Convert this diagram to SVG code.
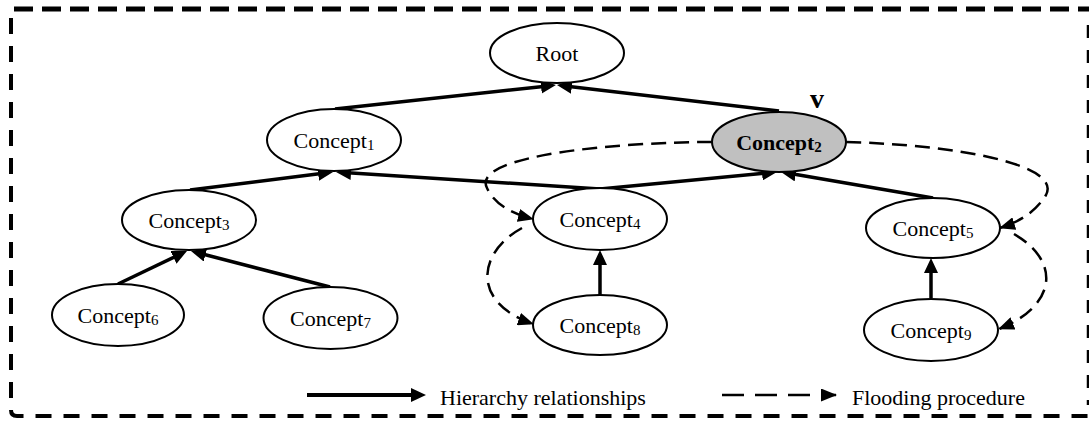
<svg xmlns="http://www.w3.org/2000/svg" width="1089" height="421" viewBox="0 0 1089 421">
  <style>
    .node { fill: #ffffff; stroke: #000; stroke-width: 2; }
    .sel { fill: #c0c0c0; stroke: #000; stroke-width: 2; }
    .lbl { font-family: "Liberation Serif", "Times New Roman", serif; font-size: 22px; fill: #000; text-anchor: middle; }
    .sub { font-size: 15px; }
    .bold { font-weight: bold; }
    .hier { fill: none; stroke: #000; stroke-width: 3.5; marker-end: url(#ah); }
    .flood { fill: none; stroke: #000; stroke-width: 2.5; stroke-dasharray: 15 8; marker-end: url(#ad); }
    .frame { fill: none; stroke: #000; }
    .leg { font-family: "Liberation Serif", "Times New Roman", serif; font-size: 22px; fill: #000; }
    .mark { font-family: "Liberation Serif", "Times New Roman", serif; font-size: 28px; font-weight: bold; fill: #000; text-anchor: middle; }
  </style>
  <defs>
    <marker id="ah" viewBox="0 0 15 14" refX="7" refY="7" markerWidth="15" markerHeight="14" markerUnits="userSpaceOnUse" orient="auto">
      <path d="M0,0 L15,7 L0,14 z" fill="#000"/>
    </marker>
    <marker id="ad" viewBox="0 0 16 13" refX="15" refY="6.5" markerWidth="16" markerHeight="13" markerUnits="userSpaceOnUse" orient="auto">
      <path d="M0,0 L16,6.5 L0,13 z" fill="#000"/>
    </marker>
  </defs>

  <g id="frame">
    <path class="frame" d="M14,9 L1089,9" stroke-width="5" stroke-dasharray="19 9"/>
    <path class="frame" d="M11,18 L11,410 Q11,416 17,416 L1089,416" stroke-width="4" stroke-dasharray="16 12"/>
    <path class="frame" d="M1088,25 L1088,405" stroke-width="2.5" stroke-dasharray="13 12"/>
  </g>

  <g id="connectors">
    <path class="hier" d="M335,109 L548,85.9"/>
    <path class="hier" d="M779,111 L564.9,85.9"/>
    <path class="hier" d="M190,190 L325.1,173"/>
    <path class="hier" d="M600,189 L344,172.5"/>
    <path class="hier" d="M600,189 L769,172.8"/>
    <path class="hier" d="M933,198 L788.9,173.3"/>
    <path class="hier" d="M118,284 L179.8,254.4"/>
    <path class="hier" d="M330,287 L198.7,253"/>
    <path class="hier" d="M600,295 L600,258"/>
    <path class="hier" d="M931,298 L931,266"/>

    <path class="flood" d="M712,142 C620,142 470,155 487,188 Q497,210 533,219"/>
    <path class="flood" d="M522,228 C478,252 470,302 533,324"/>
    <path class="flood" d="M846,142 C960,145 1062,165 1046,195 Q1032,218 1000,228"/>
    <path class="flood" d="M1014,234 C1062,262 1056,306 999,329"/>
  </g>

  <g id="root">
    <ellipse class="node" cx="557" cy="53" rx="67" ry="30"/>
    <text class="lbl" x="557" y="61">Root</text>
  </g>
  <g id="concept1">
    <ellipse class="node" cx="334" cy="140" rx="67" ry="31"/>
    <text class="lbl" x="334" y="148">Concept<tspan class="sub" dy="2">1</tspan></text>
  </g>
  <g id="concept2">
    <ellipse class="sel" cx="779" cy="142" rx="67" ry="30"/>
    <text class="lbl bold" x="779" y="150">Concept<tspan class="sub" dy="2">2</tspan></text>
    <text class="mark" x="817" y="108">v</text>
  </g>
  <g id="concept3">
    <ellipse class="node" cx="189" cy="220" rx="67" ry="30"/>
    <text class="lbl" x="189" y="228">Concept<tspan class="sub" dy="2">3</tspan></text>
  </g>
  <g id="concept4">
    <ellipse class="node" cx="600" cy="219" rx="67" ry="31"/>
    <text class="lbl" x="600" y="227">Concept<tspan class="sub" dy="2">4</tspan></text>
  </g>
  <g id="concept5">
    <ellipse class="node" cx="933" cy="228" rx="67" ry="30"/>
    <text class="lbl" x="933" y="236">Concept<tspan class="sub" dy="2">5</tspan></text>
  </g>
  <g id="concept6">
    <ellipse class="node" cx="118" cy="315" rx="66" ry="31"/>
    <text class="lbl" x="118" y="323">Concept<tspan class="sub" dy="2">6</tspan></text>
  </g>
  <g id="concept7">
    <ellipse class="node" cx="330.5" cy="318" rx="67" ry="31"/>
    <text class="lbl" x="330.5" y="326">Concept<tspan class="sub" dy="2">7</tspan></text>
  </g>
  <g id="concept8">
    <ellipse class="node" cx="600" cy="325" rx="67" ry="30"/>
    <text class="lbl" x="600" y="333">Concept<tspan class="sub" dy="2">8</tspan></text>
  </g>
  <g id="concept9">
    <ellipse class="node" cx="931" cy="330" rx="67" ry="31"/>
    <text class="lbl" x="931" y="338">Concept<tspan class="sub" dy="2">9</tspan></text>
  </g>

  <g id="legend">
    <path d="M307,395 L418,395" stroke="#000" stroke-width="4" fill="none" marker-end="url(#ah)"/>
    <path d="M722,395 L836,395" stroke="#000" stroke-width="2.5" fill="none" stroke-dasharray="22 11" marker-end="url(#ad)"/>
    <text class="leg" x="440" y="405">Hierarchy relationships</text>
    <text class="leg" x="852" y="405">Flooding procedure</text>
  </g>
</svg>
